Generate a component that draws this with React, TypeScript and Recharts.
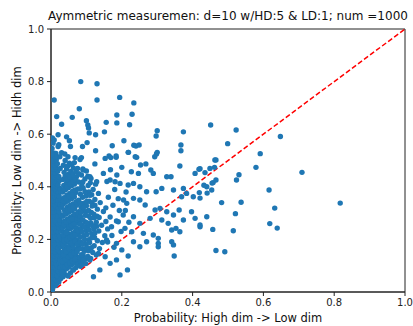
import { ReferenceArea, ReferenceLine, Scatter, ScatterChart, XAxis, YAxis } from "recharts";

type Pt = [number, number];

// [P(high dim -> low dim), P(low dim -> high dim)]
const nearAxisPoints: Pt[] = [
  [0.002, 0.004], [0.004, 0.009], [0.001, 0.018], [0.006, 0.021], [0.012, 0.024],
  [0.003, 0.033], [0.009, 0.036], [0.016, 0.031], [0.022, 0.038],
  [0.001, 0.049], [0.006, 0.052], [0.013, 0.047], [0.019, 0.055], [0.027, 0.05],
  [0.004, 0.064], [0.01, 0.068], [0.017, 0.062], [0.024, 0.07], [0.031, 0.066],
  [0.002, 0.081], [0.008, 0.078], [0.015, 0.085], [0.021, 0.079], [0.029, 0.083],
  [0.005, 0.096], [0.012, 0.093], [0.018, 0.099], [0.025, 0.094],
  [0.001, 0.11], [0.008, 0.112], [0.014, 0.107], [0.022, 0.114], [0.029, 0.108],
  [0.004, 0.126], [0.011, 0.123], [0.017, 0.129], [0.026, 0.124],
  [0.002, 0.141], [0.008, 0.138], [0.015, 0.144], [0.021, 0.139], [0.028, 0.143],
  [0.005, 0.156], [0.011, 0.153], [0.018, 0.159], [0.024, 0.154],
  [0.001, 0.171], [0.007, 0.168], [0.014, 0.174], [0.02, 0.169], [0.027, 0.173],
  [0.004, 0.186], [0.01, 0.183], [0.017, 0.188], [0.023, 0.184], [0.03, 0.187],
  [0.002, 0.201], [0.008, 0.198], [0.014, 0.204], [0.021, 0.199], [0.027, 0.203],
  [0.005, 0.216], [0.011, 0.213], [0.018, 0.219], [0.024, 0.214],
  [0.001, 0.231], [0.007, 0.228], [0.014, 0.234], [0.02, 0.229], [0.028, 0.232],
  [0.004, 0.246], [0.01, 0.243], [0.017, 0.249], [0.023, 0.244], [0.03, 0.248],
  [0.002, 0.261], [0.008, 0.258], [0.015, 0.264], [0.021, 0.259], [0.027, 0.262],
  [0.005, 0.276], [0.011, 0.273], [0.018, 0.279], [0.025, 0.274],
  [0.001, 0.291], [0.007, 0.288], [0.013, 0.294], [0.02, 0.289], [0.028, 0.292],
  [0.004, 0.306], [0.01, 0.303], [0.017, 0.309], [0.023, 0.304],
  [0.002, 0.321], [0.008, 0.318], [0.014, 0.324], [0.021, 0.319], [0.029, 0.322],
  [0.005, 0.336], [0.011, 0.333], [0.018, 0.339], [0.025, 0.334],
  [0.001, 0.351], [0.007, 0.348], [0.014, 0.354], [0.02, 0.349], [0.027, 0.352],
  [0.004, 0.366], [0.01, 0.363], [0.016, 0.369], [0.023, 0.364],
  [0.002, 0.381], [0.008, 0.378], [0.015, 0.384], [0.021, 0.379], [0.028, 0.382],
  [0.005, 0.396], [0.012, 0.393], [0.018, 0.399], [0.025, 0.394],
  [0.001, 0.411], [0.007, 0.408], [0.014, 0.414], [0.02, 0.409],
  [0.004, 0.426], [0.01, 0.423], [0.017, 0.429], [0.024, 0.424],
  [0.002, 0.441], [0.008, 0.438], [0.015, 0.444], [0.022, 0.439],
  [0.005, 0.456], [0.011, 0.453], [0.019, 0.459],
  [0.001, 0.471], [0.007, 0.468], [0.014, 0.474], [0.026, 0.47],
  [0.004, 0.486], [0.01, 0.483], [0.018, 0.488],
  [0.002, 0.501], [0.008, 0.498], [0.015, 0.503],
  [0.005, 0.516], [0.012, 0.513], [0.001, 0.531], [0.009, 0.528],
  [0.003, 0.546], [0.006, 0.566],
];

const denseCorePoints: Pt[] = [
  [0.034, 0.058], [0.041, 0.066], [0.048, 0.061], [0.055, 0.072], [0.037, 0.081], [0.044, 0.088],
  [0.062, 0.084], [0.07, 0.092], [0.051, 0.095], [0.033, 0.099], [0.058, 0.104], [0.066, 0.11],
  [0.039, 0.112], [0.047, 0.118], [0.075, 0.12], [0.054, 0.126], [0.036, 0.129], [0.061, 0.134],
  [0.043, 0.138], [0.07, 0.142], [0.079, 0.131], [0.033, 0.147], [0.05, 0.15], [0.057, 0.156],
  [0.038, 0.162], [0.066, 0.158], [0.045, 0.17], [0.074, 0.166], [0.053, 0.178], [0.062, 0.172],
  [0.034, 0.18], [0.041, 0.188], [0.07, 0.186], [0.078, 0.178], [0.048, 0.195], [0.057, 0.2],
  [0.036, 0.204], [0.065, 0.207], [0.044, 0.212], [0.073, 0.198], [0.052, 0.219], [0.061, 0.224],
  [0.038, 0.226], [0.069, 0.231], [0.077, 0.219], [0.046, 0.235], [0.055, 0.241], [0.033, 0.244],
  [0.064, 0.248], [0.042, 0.252], [0.072, 0.244], [0.05, 0.26], [0.059, 0.265], [0.037, 0.268],
  [0.068, 0.271], [0.076, 0.262], [0.046, 0.277], [0.055, 0.284], [0.034, 0.288], [0.063, 0.29],
  [0.042, 0.296], [0.071, 0.286], [0.05, 0.303], [0.059, 0.309], [0.038, 0.312], [0.067, 0.316],
  [0.079, 0.305], [0.046, 0.322], [0.054, 0.329], [0.033, 0.333], [0.062, 0.335], [0.041, 0.341],
  [0.072, 0.33], [0.049, 0.348], [0.058, 0.355], [0.037, 0.359], [0.066, 0.362], [0.045, 0.368],
  [0.053, 0.375], [0.033, 0.38], [0.061, 0.383], [0.041, 0.389], [0.07, 0.378], [0.049, 0.396],
  [0.036, 0.405], [0.058, 0.404], [0.044, 0.414], [0.066, 0.41], [0.052, 0.421], [0.034, 0.428],
  [0.06, 0.43], [0.04, 0.44], [0.049, 0.447], [0.072, 0.438], [0.037, 0.455], [0.056, 0.458],
  [0.044, 0.468], [0.063, 0.472], [0.035, 0.482], [0.052, 0.49], [0.04, 0.5],
];

const coreFillPoints: Pt[] = [
  [0.031, 0.074], [0.039, 0.095], [0.046, 0.104], [0.053, 0.11], [0.06, 0.118], [0.068, 0.125],
  [0.076, 0.105], [0.084, 0.116], [0.032, 0.116], [0.041, 0.124], [0.049, 0.134], [0.057, 0.142],
  [0.065, 0.148], [0.074, 0.154], [0.082, 0.131], [0.091, 0.138], [0.099, 0.126], [0.035, 0.14],
  [0.043, 0.154], [0.05, 0.165], [0.059, 0.186], [0.067, 0.193], [0.075, 0.182], [0.083, 0.19],
  [0.09, 0.165], [0.098, 0.184], [0.106, 0.157], [0.114, 0.168], [0.037, 0.195], [0.045, 0.2],
  [0.053, 0.207], [0.06, 0.213], [0.068, 0.217], [0.076, 0.233], [0.085, 0.241], [0.093, 0.214],
  [0.1, 0.233], [0.107, 0.199], [0.115, 0.222], [0.123, 0.207], [0.035, 0.217], [0.043, 0.226],
  [0.051, 0.247], [0.058, 0.253], [0.066, 0.258], [0.074, 0.275], [0.081, 0.272], [0.088, 0.255],
  [0.097, 0.266], [0.105, 0.25], [0.113, 0.262], [0.121, 0.24], [0.129, 0.25], [0.036, 0.256],
  [0.043, 0.265], [0.052, 0.272], [0.06, 0.278], [0.068, 0.296], [0.076, 0.3], [0.083, 0.287],
  [0.09, 0.31], [0.098, 0.305], [0.106, 0.289], [0.114, 0.302], [0.122, 0.282], [0.13, 0.288],
  [0.039, 0.3], [0.047, 0.31], [0.055, 0.316], [0.063, 0.322], [0.071, 0.343], [0.078, 0.349],
  [0.085, 0.322], [0.093, 0.338], [0.1, 0.328], [0.108, 0.345], [0.116, 0.34], [0.124, 0.33],
  [0.035, 0.345], [0.043, 0.355], [0.052, 0.363], [0.06, 0.369], [0.068, 0.388], [0.076, 0.392],
  [0.083, 0.372], [0.091, 0.395], [0.099, 0.365], [0.107, 0.38], [0.115, 0.37], [0.038, 0.39],
  [0.046, 0.4], [0.054, 0.41], [0.062, 0.418], [0.07, 0.425], [0.078, 0.418], [0.087, 0.405],
  [0.096, 0.43], [0.104, 0.44], [0.111, 0.415], [0.045, 0.428], [0.053, 0.437], [0.062, 0.447],
  [0.07, 0.458], [0.079, 0.45], [0.09, 0.468], [0.047, 0.478], [0.058, 0.485], [0.066, 0.492],
  [0.075, 0.47],
];

const innerSpreadPoints: Pt[] = [
  [0.083, 0.098], [0.09, 0.12], [0.098, 0.108], [0.086, 0.142], [0.104, 0.135], [0.094, 0.155],
  [0.112, 0.128], [0.083, 0.165], [0.118, 0.15], [0.101, 0.17], [0.128, 0.141], [0.089, 0.183],
  [0.109, 0.188], [0.122, 0.176], [0.095, 0.2], [0.137, 0.165], [0.082, 0.208], [0.115, 0.206],
  [0.131, 0.195], [0.101, 0.218], [0.088, 0.228], [0.124, 0.224], [0.145, 0.188], [0.108, 0.236],
  [0.094, 0.247], [0.135, 0.232], [0.118, 0.252], [0.082, 0.258], [0.102, 0.263], [0.152, 0.214],
  [0.128, 0.265], [0.09, 0.275], [0.112, 0.28], [0.143, 0.254], [0.097, 0.292], [0.121, 0.296],
  [0.084, 0.302], [0.136, 0.283], [0.106, 0.31], [0.155, 0.268], [0.092, 0.322], [0.116, 0.327],
  [0.131, 0.315], [0.083, 0.338], [0.101, 0.344], [0.148, 0.306], [0.124, 0.352], [0.089, 0.36],
  [0.11, 0.368], [0.139, 0.34], [0.096, 0.381], [0.082, 0.392], [0.119, 0.39], [0.105, 0.405],
  [0.134, 0.375], [0.09, 0.418], [0.113, 0.432], [0.086, 0.445], [0.126, 0.41], [0.1, 0.46],
  [0.16, 0.24], [0.167, 0.285], [0.175, 0.33], [0.162, 0.36], [0.18, 0.39], [0.158, 0.42],
  [0.172, 0.215], [0.185, 0.27], [0.193, 0.31], [0.205, 0.35], [0.178, 0.17], [0.198, 0.23],
  [0.212, 0.38], [0.186, 0.445], [0.168, 0.465], [0.155, 0.32], [0.16, 0.19], [0.21, 0.31],
  [0.22, 0.265], [0.19, 0.355],
];

const midSpreadPoints: Pt[] = [
  [0.014, 0.527], [0.082, 0.504], [0.124, 0.487], [0.164, 0.517], [0.184, 0.512], [0.2, 0.474],
  [0.218, 0.531], [0.242, 0.512], [0.253, 0.483], [0.268, 0.487], [0.282, 0.464], [0.298, 0.525],
  [0.227, 0.457], [0.247, 0.451], [0.289, 0.451], [0.327, 0.438], [0.339, 0.438], [0.364, 0.479],
  [0.407, 0.451], [0.148, 0.451], [0.167, 0.426], [0.181, 0.419], [0.195, 0.413], [0.11, 0.438],
  [0.129, 0.419], [0.091, 0.464], [0.218, 0.407], [0.233, 0.413], [0.251, 0.4], [0.27, 0.381],
  [0.297, 0.381], [0.313, 0.394], [0.346, 0.388], [0.374, 0.394], [0.383, 0.375], [0.369, 0.362],
  [0.402, 0.362], [0.419, 0.378], [0.233, 0.356], [0.251, 0.35], [0.214, 0.337], [0.266, 0.331],
  [0.294, 0.312], [0.308, 0.318], [0.327, 0.305], [0.346, 0.293], [0.362, 0.312], [0.374, 0.274],
  [0.397, 0.305], [0.407, 0.28], [0.313, 0.274], [0.331, 0.261], [0.28, 0.28], [0.251, 0.261],
  [0.233, 0.286], [0.204, 0.293], [0.19, 0.267], [0.171, 0.248], [0.209, 0.242], [0.228, 0.229],
  [0.261, 0.223], [0.289, 0.217], [0.303, 0.204], [0.341, 0.236], [0.353, 0.242], [0.364, 0.229],
  [0.157, 0.198], [0.185, 0.185], [0.2, 0.16], [0.233, 0.191], [0.251, 0.172], [0.27, 0.191],
  [0.303, 0.185], [0.303, 0.172], [0.341, 0.191], [0.346, 0.179], [0.348, 0.137], [0.218, 0.137],
  [0.185, 0.122], [0.167, 0.109], [0.138, 0.084], [0.12, 0.058], [0.195, 0.065], [0.216, 0.084],
  [0.134, 0.147], [0.11, 0.122], [0.087, 0.103], [0.063, 0.084], [0.153, 0.134],
];

const upperPoints: Pt[] = [
  [0.084, 0.8], [0.13, 0.792], [0.009, 0.73], [0.13, 0.73], [0.194, 0.74], [0.234, 0.719],
  [0.08, 0.697], [0.016, 0.667], [0.06, 0.664], [0.186, 0.673], [0.229, 0.676], [0.1, 0.651],
  [0.156, 0.645], [0.186, 0.643], [0.03, 0.638], [0.104, 0.635], [0.106, 0.624], [0.222, 0.636],
  [0.151, 0.609], [0.108, 0.605], [0.126, 0.598], [0.02, 0.598], [0.044, 0.59], [0.004, 0.586],
  [0.009, 0.578], [0.052, 0.575], [0.206, 0.575], [0.3, 0.613], [0.297, 0.593], [0.374, 0.609],
  [0.022, 0.56], [0.02, 0.553], [0.055, 0.553], [0.089, 0.553], [0.102, 0.568], [0.173, 0.556],
  [0.126, 0.537], [0.219, 0.531], [0.234, 0.558], [0.24, 0.555], [0.249, 0.559], [0.367, 0.559],
  [0.367, 0.537], [0.3, 0.531], [0.03, 0.53], [0.039, 0.525], [0.007, 0.521], [0.016, 0.514],
  [0.025, 0.514], [0.048, 0.514], [0.068, 0.511], [0.086, 0.511], [0.153, 0.508], [0.169, 0.511],
  [0.184, 0.517], [0.238, 0.514], [0.293, 0.514],
];

const rightTailPoints: Pt[] = [
  [0.451, 0.635], [0.523, 0.616], [0.648, 0.591], [0.499, 0.564], [0.591, 0.526], [0.466, 0.502],
  [0.462, 0.474], [0.579, 0.474], [0.421, 0.469], [0.709, 0.455], [0.531, 0.446], [0.466, 0.426],
  [0.524, 0.426], [0.455, 0.414], [0.432, 0.406], [0.441, 0.376], [0.616, 0.388], [0.482, 0.34],
  [0.537, 0.341], [0.817, 0.338], [0.632, 0.319], [0.521, 0.298], [0.421, 0.248], [0.457, 0.238],
  [0.515, 0.233], [0.618, 0.26], [0.639, 0.243], [0.466, 0.158], [0.491, 0.153], [0.421, 0.357],
  [0.435, 0.454], [0.449, 0.47], [0.463, 0.502], [0.418, 0.467], [0.458, 0.416], [0.44, 0.4],
  [0.454, 0.388], [0.44, 0.286], [0.421, 0.255],
];

const axisTicks = [0, 0.2, 0.4, 0.6, 0.8, 1.0];

const points = [
  ...nearAxisPoints,
  ...denseCorePoints,
  ...coreFillPoints,
  ...innerSpreadPoints,
  ...midSpreadPoints,
  ...upperPoints,
  ...rightTailPoints,
].map(([hdToLd, ldToHd]) => ({ hdToLd, ldToHd }));

const font = "'DejaVu Sans', sans-serif";

const Dot = (props: any) => <circle cx={props.cx} cy={props.cy} r={2.7} fill="#1f77b4" />;

export default function App() {
  return (
    <div style={{ position: "absolute", left: 0, top: 0, width: 413, height: 326, background: "#fff", fontFamily: font }}>
      <div
        style={{
          position: "absolute",
          left: 228,
          top: 10,
          transform: "translateX(-50%)",
          fontSize: 12,
          lineHeight: 1,
          color: "#111",
          whiteSpace: "nowrap",
        }}
      >
        Aymmetric measuremen: d=10 w/HD:5 &amp; LD:1; num =1000
      </div>
      <ScatterChart width={413} height={326} margin={{ top: 29, right: 8, bottom: 0, left: 0 }}>
        <XAxis
          type="number"
          dataKey="hdToLd"
          domain={[0, 1]}
          ticks={axisTicks}
          allowDataOverflow
          tickFormatter={(v: number) => v.toFixed(1)}
          height={34}
          tickSize={4}
          tickMargin={3}
          stroke="#222"
          tick={{ fill: "#222", fontSize: 10, fontFamily: font }}
          label={{
            value: "Probability: High dim -> Low dim",
            position: "insideBottom",
            offset: 4,
            fill: "#111",
            fontSize: 11.5,
            fontFamily: font,
          }}
        />
        <YAxis
          type="number"
          dataKey="ldToHd"
          domain={[0, 1]}
          ticks={axisTicks}
          allowDataOverflow
          tickFormatter={(v: number) => v.toFixed(1)}
          width={51}
          tickSize={4}
          tickMargin={3}
          stroke="#222"
          tick={{ fill: "#222", fontSize: 10, fontFamily: font }}
          label={{
            value: "Probability: Low dim -> Hidh dim",
            angle: -90,
            position: "insideLeft",
            offset: 17,
            fill: "#111",
            fontSize: 11.5,
            fontFamily: font,
            style: { textAnchor: "middle" },
          }}
        />
        <Scatter data={points} shape={Dot} isAnimationActive={false} />
        <ReferenceLine
          segment={[
            { x: 0, y: 0 },
            { x: 1, y: 1 },
          ]}
          stroke="#ff0000"
          strokeWidth={1.5}
          strokeDasharray="5 2.5"
        />
        <ReferenceArea x1={0} x2={1} y1={0} y2={1} fill="none" stroke="#222" strokeWidth={1} />
      </ScatterChart>
    </div>
  );
}
